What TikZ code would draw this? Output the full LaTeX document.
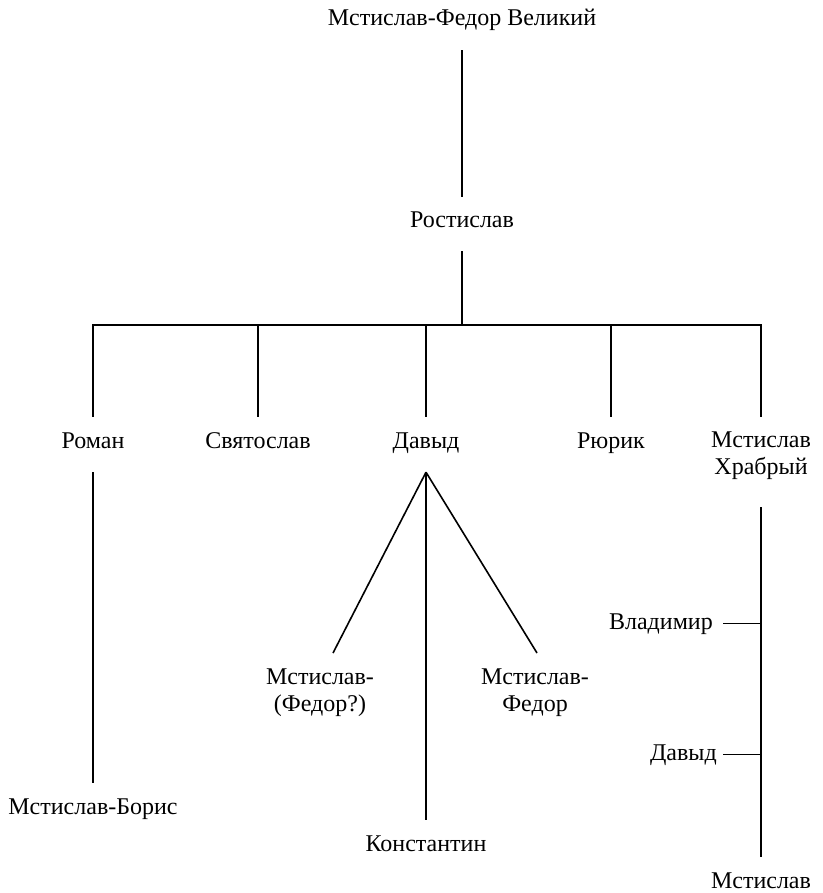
\documentclass[tikz,border=0pt]{standalone}
\usepackage{fontspec}
\setmainfont{Liberation Serif}
\usetikzlibrary{calc}
\begin{document}
\begin{tikzpicture}[x=1pt,y=-1pt,
  every node/.style={font=\fontsize{24}{27}\selectfont, inner sep=0pt},
  nm/.style={text height=16pt, text depth=5pt, anchor=base},
  ml/.style={align=center, anchor=north},
  link/.style={line width=1.6pt}]
\useasboundingbox (0,0) rectangle (822,893);
% nodes
\node[nm] (top) at (462,26) {Мстислав-Федор Великий};
\node[nm] (ros) at (462,227) {Ростислав};
\coordinate (bar) at (462,325);
\node[nm] (roman) at (93,448) {Роман};
\node[nm] (svyat) at (258,448) {Святослав};
\node[nm] (david) at (426,448) {Давыд};
\node[nm] (ryurik) at (611,448) {Рюрик};
\node[ml] (mkh) at (761,432) {Мстислав\\Храбрый};
\node[nm] (mboris) at (93,814) {Мстислав-Борис};
\node[ml] (mfl) at (320,669) {Мстислав-\\(Федор?)};
\node[ml] (mfr) at (535,669) {Мстислав-\\Федор};
\node[nm] (konst) at (426,851) {Константин};
\node[nm, anchor=base east] (vlad) at (713,629) {Владимир};
\node[nm, anchor=base east] (david2) at (717,760) {Давыд};
\node[nm] (mst) at (761,888) {Мстислав};
\coordinate (dapex) at ($(david.south)+(0,19)$);
% connectors
\draw[link, shorten <=19pt, shorten >=14pt] (top.south) -- (ros.north);
\draw[link, shorten <=19pt] (ros.south) -- (bar);
\foreach \c in {roman,svyat,david,ryurik,mkh}
  \draw[link, shorten >=15pt] (bar) -| (\c.north);
\draw[link, shorten <=19pt, shorten >=15pt] (roman.south) -- (mboris.north);
\draw[link] (dapex) -- ($(mfl.north)+(13,-16)$);
\draw[link] (dapex) -- ($(mfr.north)+(2,-16)$);
\draw[link, shorten >=15pt] (dapex) -- (konst.north);
\draw[link, shorten <=27pt, shorten >=15pt] (mkh.south) -- (mst.north);
\draw[link, shorten <=10pt] (vlad.east) -- (vlad.east -| mkh.south);
\draw[link, shorten <=6pt] (david2.east) -- (david2.east -| mkh.south);
\end{tikzpicture}
\end{document}
